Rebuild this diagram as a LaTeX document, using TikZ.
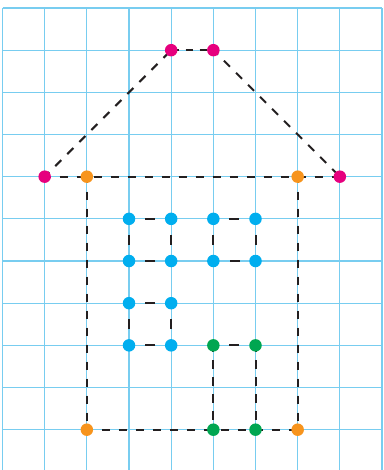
\documentclass[tikz,border=0pt]{standalone}
\definecolor{gridblue}{RGB}{120,205,240}
\definecolor{dotmag}{RGB}{230,0,126}
\definecolor{dotorange}{RGB}{247,148,29}
\definecolor{dotblue}{RGB}{0,174,239}
\definecolor{dotgreen}{RGB}{0,166,81}
\definecolor{linedark}{RGB}{35,31,32}
\tikzset{
  gridline/.style={draw=gridblue, line width=1.2pt},
  dashline/.style={draw=linedark, line width=2pt, dash pattern=on 8.5pt off 8.5pt, dash phase=2pt},
  shortdash/.style={draw=linedark, line width=2pt, dash pattern=on 10pt off 11.085pt, dash phase=5.085pt},
  dot/.style={circle, inner sep=0pt, minimum size=12.5pt, fill=#1}
}
\begin{document}
\begin{tikzpicture}[x=42.17pt,y=-42.17pt]
\useasboundingbox[fill=white] (-0.0593,-0.1897) rectangle (9.0467,10.956);
% grid
\foreach \i in {0,...,9} \draw[gridline] (\i,0) -- (\i,10.956);
\foreach \j in {0,...,10} \draw[gridline] (0,\j) -- (9,\j);
% points
\coordinate (m1) at (4,1); \coordinate (m2) at (5,1);
\coordinate (m3) at (1,4); \coordinate (m4) at (8,4);
\coordinate (o1) at (2,4); \coordinate (o2) at (7,4);
\coordinate (o3) at (2,10); \coordinate (o4) at (7,10);
\coordinate (a1) at (3,5); \coordinate (a2) at (4,5); \coordinate (a3) at (3,6); \coordinate (a4) at (4,6);
\coordinate (b1) at (5,5); \coordinate (b2) at (6,5); \coordinate (b3) at (5,6); \coordinate (b4) at (6,6);
\coordinate (c1) at (3,7); \coordinate (c2) at (4,7); \coordinate (c3) at (3,8); \coordinate (c4) at (4,8);
\coordinate (g1) at (5,8); \coordinate (g2) at (6,8); \coordinate (g3) at (5,10); \coordinate (g4) at (6,10);
% roof
\draw[dashline] (m3) -- (m1);
\draw[dashline, dash pattern=on 7.5pt off 6.5pt, dash phase=-0.5pt] (m1) -- (m2);
\draw[dashline] (m2) -- (m4);
\draw[dashline] (m3) -- (m4);
% house walls
\draw[dashline] (o1) -- (o3);
\draw[dashline] (o3) -- (o4);
\draw[dashline] (o2) -- (o4);
% windows
\foreach \p/\q in {a1/a2,a2/a4,a4/a3,a3/a1,b1/b2,b2/b4,b4/b3,b3/b1,c1/c2,c2/c4,c4/c3,c3/c1,g1/g2}
  \draw[shortdash] (\p) -- (\q);
% door sides
\draw[dashline] (g1) -- (g3);
\draw[dashline] (g2) -- (g4);
% dots
\foreach \p in {m1,m2,m3,m4} \node[dot=dotmag] (d\p) at (\p) {};
\foreach \p in {o1,o2,o3,o4} \node[dot=dotorange] (d\p) at (\p) {};
\foreach \p in {a1,a2,a3,a4,b1,b2,b3,b4,c1,c2,c3,c4} \node[dot=dotblue] (d\p) at (\p) {};
\foreach \p in {g1,g2,g3,g4} \node[dot=dotgreen] (d\p) at (\p) {};
\end{tikzpicture}
\end{document}
